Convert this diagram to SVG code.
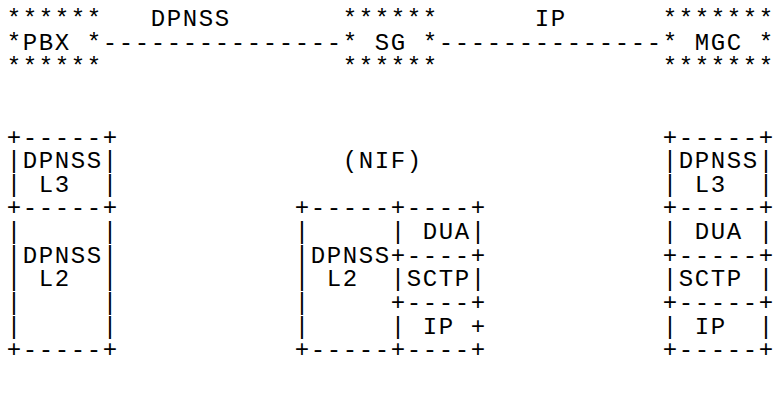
<svg xmlns="http://www.w3.org/2000/svg" width="775" height="410" viewBox="0 0 775 410">
<style>
text{font-family:"Liberation Mono","DejaVu Sans Mono",monospace;font-size:24px;letter-spacing:1.6px;fill:#000;white-space:pre}
</style>
<rect width="775" height="410" fill="#fff"/>
<g id="pbx">
<text xml:space="preserve"><tspan x="6.8" y="26.25">******</tspan><tspan x="6.8" y="49.9">*PBX *</tspan><tspan x="6.8" y="73.55">******</tspan></text>
</g>
<g id="sg">
<text xml:space="preserve"><tspan x="342.8" y="26.25">******</tspan><tspan x="342.8" y="49.9">* SG *</tspan><tspan x="342.8" y="73.55">******</tspan></text>
</g>
<g id="mgc">
<text xml:space="preserve"><tspan x="662.8" y="26.25">*******</tspan><tspan x="662.8" y="49.9">* MGC *</tspan><tspan x="662.8" y="73.55">*******</tspan></text>
</g>
<g id="connectors">
<text xml:space="preserve"><tspan x="150.8" y="26.25">DPNSS</tspan><tspan x="102.8" y="49.9">---------------</tspan></text>
<text xml:space="preserve"><tspan x="534.8" y="26.25">IP</tspan><tspan x="438.8" y="49.9">--------------</tspan></text>
</g>
<g id="stack-pbx">
<text xml:space="preserve"><tspan x="6.8" y="144.5">+-----+</tspan><tspan x="6.8" y="168.15">|DPNSS|</tspan><tspan x="6.8" y="191.8">| L3  |</tspan><tspan x="6.8" y="215.45">+-----+</tspan><tspan x="6.8" y="239.1">|     |</tspan><tspan x="6.8" y="262.75">|DPNSS|</tspan><tspan x="6.8" y="286.4">| L2  |</tspan><tspan x="6.8" y="310.05">|     |</tspan><tspan x="6.8" y="333.7">|     |</tspan><tspan x="6.8" y="357.35">+-----+</tspan></text>
</g>
<g id="stack-nif">
<text xml:space="preserve"><tspan x="342.8" y="168.15">(NIF)</tspan></text>
<text xml:space="preserve"><tspan x="294.8" y="215.45">+-----+----+</tspan><tspan x="294.8" y="239.1">|     | DUA|</tspan><tspan x="294.8" y="262.75">|DPNSS+----+</tspan><tspan x="294.8" y="286.4">| L2  |SCTP|</tspan><tspan x="294.8" y="310.05">|     +----+</tspan><tspan x="294.8" y="333.7">|     | IP +</tspan><tspan x="294.8" y="357.35">+-----+----+</tspan></text>
</g>
<g id="stack-mgc">
<text xml:space="preserve"><tspan x="662.8" y="144.5">+-----+</tspan><tspan x="662.8" y="168.15">|DPNSS|</tspan><tspan x="662.8" y="191.8">| L3  |</tspan><tspan x="662.8" y="215.45">+-----+</tspan><tspan x="662.8" y="239.1">| DUA |</tspan><tspan x="662.8" y="262.75">+-----+</tspan><tspan x="662.8" y="286.4">|SCTP |</tspan><tspan x="662.8" y="310.05">+-----+</tspan><tspan x="662.8" y="333.7">| IP  |</tspan><tspan x="662.8" y="357.35">+-----+</tspan></text>
</g>
</svg>
